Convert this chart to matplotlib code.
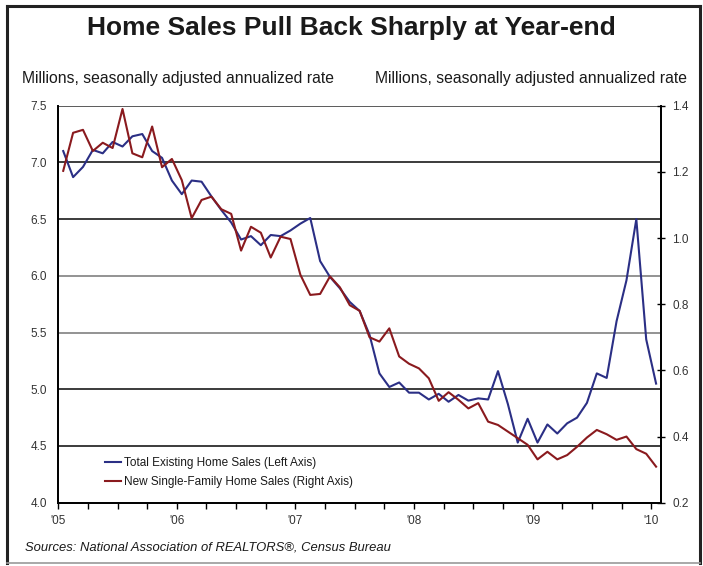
import numpy as np
import matplotlib
matplotlib.use('Agg')
import matplotlib.pyplot as plt
from matplotlib.lines import Line2D
from matplotlib.transforms import ScaledTranslation

plt.rcParams['font.family'] = ['Liberation Sans', 'DejaVu Sans']

# Monthly data, Jan 2005 - Jan 2010 (millions, SAAR)
existing_sales = [
    7.10, 6.87, 6.96, 7.11, 7.08, 7.18, 7.14, 7.23, 7.25, 7.10, 7.04, 6.84,
    6.72, 6.84, 6.83, 6.70, 6.58, 6.47, 6.32, 6.35, 6.27, 6.36, 6.35, 6.40,
    6.46, 6.51, 6.13, 5.99, 5.89, 5.77, 5.69, 5.48, 5.14, 5.02, 5.06, 4.97,
    4.97, 4.91, 4.96, 4.89, 4.95, 4.90, 4.92, 4.91, 5.16, 4.87, 4.53, 4.74,
    4.53, 4.69, 4.61, 4.70, 4.75, 4.88, 5.14, 5.10, 5.60, 5.96, 6.50, 5.44,
    5.05,
]
new_sales = [
    1.203, 1.318, 1.327, 1.263, 1.288, 1.272, 1.390, 1.256, 1.244, 1.337, 1.214, 1.239,
    1.175, 1.060, 1.115, 1.125, 1.087, 1.073, 0.962, 1.034, 1.016, 0.941, 1.004, 0.997,
    0.889, 0.828, 0.831, 0.884, 0.851, 0.797, 0.780, 0.700, 0.687, 0.727, 0.642, 0.620,
    0.606, 0.576, 0.508, 0.534, 0.511, 0.485, 0.501, 0.445, 0.435, 0.415, 0.395, 0.375,
    0.331, 0.354, 0.331, 0.344, 0.369, 0.397, 0.420, 0.407, 0.390, 0.400, 0.362, 0.348,
    0.309,
]
year_labels = ["'05", "'06", "'07", "'08", "'09", "'10"]
left_ticks = [4.0, 4.5, 5.0, 5.5, 6.0, 6.5, 7.0, 7.5]
right_ticks = [0.2, 0.4, 0.6, 0.8, 1.0, 1.2, 1.4]

BLUE = '#2b2f85'
RED = '#8a1a1e'

fig = plt.figure(figsize=(7.03, 5.66), dpi=100)
ax = fig.add_axes([0.0829, 0.1118, 0.8574, 0.7015])
ax2 = ax.twinx()

months = np.arange(len(existing_sales)) + 0.5

# horizontal rules across the plot, keyed to the left scale
for v in left_ticks[1:]:
    c = '#808080' if v in (5.5, 6.0) else '#1a1a1a'
    if v == 7.5:
        c = '#404040'
    ax.axhline(v, color=c, lw=1.2, zorder=1)

l1, = ax.plot(months, existing_sales, color=BLUE, lw=1.5, zorder=3,
              label='Total Existing Home Sales (Left Axis)')
l2, = ax2.plot(months, new_sales, color=RED, lw=1.5, zorder=3,
               label='New Single-Family Home Sales (Right Axis)')

ax.set_xlim(0, 61)
ax.set_ylim(4.0, 7.5)
ax2.set_ylim(0.2, 1.4)

ax.set_yticks(left_ticks)
ax.set_yticklabels(['%.1f' % v for v in left_ticks])
ax2.set_yticks(right_ticks)
ax2.set_yticklabels(['%.1f' % v for v in right_ticks])

ax.set_xticks(np.arange(0, 61, 3))
ax.set_xticklabels([year_labels[i // 12] if i % 12 == 0 else '' for i in range(0, 61, 3)])
shift = ScaledTranslation(4 / 100, 0, fig.dpi_scale_trans)
for lab in ax.get_xticklabels():
    lab.set_transform(lab.get_transform() + shift)

ax.tick_params(axis='x', direction='out', length=4, width=1, color='black',
               labelsize=8.5, labelcolor='#333333', pad=5)
ax.tick_params(axis='y', length=0, labelsize=8.5, labelcolor='#333333', pad=8)
ax2.tick_params(axis='y', direction='inout', length=6, width=1, color='black',
                labelsize=8.5, labelcolor='#333333', pad=5)

for a in (ax, ax2):
    a.spines['top'].set_visible(False)
    for s in ('left', 'bottom', 'right'):
        a.spines[s].set_linewidth(1.3)
        a.spines[s].set_color('black')

leg = ax2.legend(handles=[l1, l2], loc='upper left', frameon=False,
                 bbox_to_anchor=(105 / 703, 1 - 457 / 566),
                 bbox_transform=fig.transFigure, borderaxespad=0, borderpad=0,
                 fontsize=8.5, handlelength=1.35, handletextpad=0.25,
                 labelspacing=0.6)
for t in leg.get_texts():
    t.set_color('#1a1a1a')

fig.text(0.5, 0.950, 'Home Sales Pull Back Sharply at Year-end', ha='center',
         va='center', fontsize=19, fontweight='bold', color='#1a1a1a')
fig.text(22 / 703, 0.861, 'Millions, seasonally adjusted annualized rate',
         ha='left', va='center', fontsize=11.3, color='#1a1a1a')
fig.text(375 / 703, 0.861, 'Millions, seasonally adjusted annualized rate',
         ha='left', va='center', fontsize=11.3, color='#1a1a1a')
fig.text(25 / 703, 0.032, 'Sources: National Association of REALTORS®, Census Bureau',
         ha='left', va='center', fontsize=9.4, style='italic', color='#1a1a1a')

# outer frame
x0, x1 = 7 / 703, 700 / 703
y0, y1 = 1 - 563 / 566, 1 - 6 / 566
fig.add_artist(Line2D([x0, x1], [y1, y1], color='#222222', lw=2.2))
fig.add_artist(Line2D([x0, x0], [y0, y1], color='#222222', lw=2.2))
fig.add_artist(Line2D([x1, x1], [y0, y1], color='#222222', lw=2.2))
fig.add_artist(Line2D([x0, x1], [y0, y0], color='#9a9a9a', lw=1.2))

fig.savefig('out.png', dpi=100)
